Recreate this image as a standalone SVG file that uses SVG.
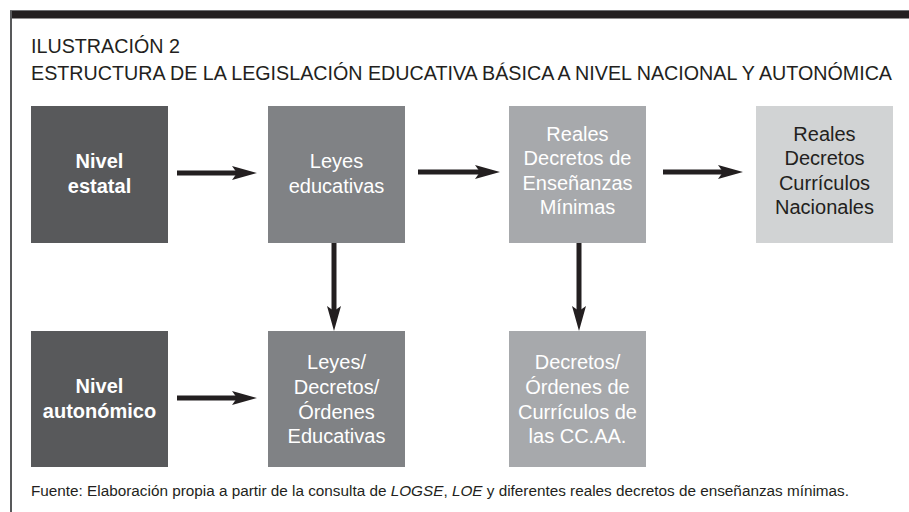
<svg xmlns="http://www.w3.org/2000/svg" width="909" height="512" viewBox="0 0 909 512">
<defs>
<style>
.t{font-family:"Liberation Sans",Arial,sans-serif;fill:#231f20}
.n{font-family:"Liberation Sans",Arial,sans-serif;font-size:20px;text-anchor:middle;fill:#fff}
.k{fill:#231f20}
.b{font-weight:bold}
.c{stroke:#231f20;stroke-width:5;fill:none}
</style>
<marker id="ah" markerUnits="userSpaceOnUse" markerWidth="26" markerHeight="16" viewBox="-25 -8 26 16" refX="-20" refY="0" orient="auto">
<path d="M0,0 L-25,-7 L-20,0 L-25,7 Z" fill="#231f20"/>
</marker>
</defs>
<rect width="909" height="512" fill="#fff"/>
<rect x="10" y="10" width="899" height="1.5" fill="#6d6e71"/>
<rect x="10" y="11" width="899" height="7.5" fill="#231f20"/>
<rect x="10" y="11" width="2" height="501" fill="#58595b"/>
<text class="t" x="31" y="53" font-size="19.5" textLength="149" lengthAdjust="spacingAndGlyphs">ILUSTRACIÓN 2</text>
<text class="t" x="31" y="80" font-size="19.5" textLength="861" lengthAdjust="spacingAndGlyphs">ESTRUCTURA DE LA LEGISLACIÓN EDUCATIVA BÁSICA A NIVEL NACIONAL Y AUTONÓMICA</text>
<g id="connectors">
<path class="c" d="M177,173 H237" marker-end="url(#ah)"/>
<path class="c" d="M418,172 H480" marker-end="url(#ah)"/>
<path class="c" d="M663,172 H723" marker-end="url(#ah)"/>
<path class="c" d="M334,243 V311" marker-end="url(#ah)"/>
<path class="c" d="M579,243 V311" marker-end="url(#ah)"/>
<path class="c" d="M177,398 H237" marker-end="url(#ah)"/>
</g>
<g id="nivel-estatal">
<rect x="31" y="106" width="137" height="137" fill="#58595b"/>
<text class="n b" x="99.5" y="168">Nivel</text>
<text class="n b" x="99.5" y="193">estatal</text>
</g>
<g id="leyes-educativas">
<rect x="268" y="106" width="137" height="137" fill="#808285"/>
<text class="n" x="336.5" y="168">Leyes</text>
<text class="n" x="336.5" y="193">educativas</text>
</g>
<g id="reales-decretos-ensenanzas">
<rect x="509" y="106" width="137" height="137" fill="#a7a9ac"/>
<text class="n" x="577.5" y="140.5">Reales</text>
<text class="n" x="577.5" y="165">Decretos de</text>
<text class="n" x="577.5" y="189.5">Enseñanzas</text>
<text class="n" x="577.5" y="214">Mínimas</text>
</g>
<g id="reales-decretos-curriculos">
<rect x="756" y="106" width="137" height="137" fill="#d1d3d4"/>
<text class="n k" x="824.5" y="140.5">Reales</text>
<text class="n k" x="824.5" y="165">Decretos</text>
<text class="n k" x="824.5" y="189.5">Currículos</text>
<text class="n k" x="824.5" y="214">Nacionales</text>
</g>
<g id="nivel-autonomico">
<rect x="31" y="331" width="137" height="136" fill="#58595b"/>
<text class="n b" x="99.5" y="393">Nivel</text>
<text class="n b" x="99.5" y="417.5">autonómico</text>
</g>
<g id="leyes-decretos-ordenes">
<rect x="268" y="331" width="137" height="136" fill="#808285"/>
<text class="n" x="336.5" y="368.5">Leyes/</text>
<text class="n" x="336.5" y="393.5">Decretos/</text>
<text class="n" x="336.5" y="418.5">Órdenes</text>
<text class="n" x="336.5" y="443">Educativas</text>
</g>
<g id="decretos-ordenes-ccaa">
<rect x="509" y="331" width="137" height="136" fill="#a7a9ac"/>
<text class="n" x="577.5" y="368.5">Decretos/</text>
<text class="n" x="577.5" y="393.5">Órdenes de</text>
<text class="n" x="577.5" y="418.5">Currículos de</text>
<text class="n" x="577.5" y="443">las CC.AA.</text>
</g>
<text class="t" x="31" y="496" font-size="14" textLength="818" lengthAdjust="spacingAndGlyphs">Fuente: Elaboración propia a partir de la consulta de <tspan font-style="italic">LOGSE</tspan>, <tspan font-style="italic">LOE</tspan> y diferentes reales decretos de enseñanzas mínimas.</text>
</svg>
